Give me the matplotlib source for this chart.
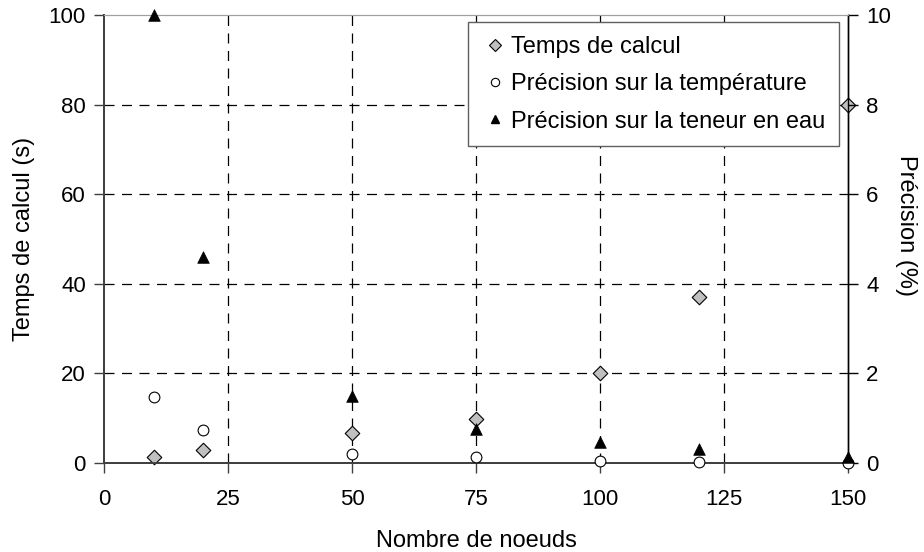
import matplotlib
matplotlib.use("Agg")
import matplotlib.pyplot as plt
from matplotlib.lines import Line2D

plt.rcParams["font.family"] = ["Liberation Sans", "DejaVu Sans"]

# --- data ---
noeuds = [10, 20, 50, 75, 100, 120, 150]
temps_calcul = [1.3, 2.8, 6.8, 9.8, 20, 37, 80]          # s, left axis
precision_temp = [1.48, 0.74, 0.2, 0.13, 0.05, 0.03, 0.01]  # %, right axis
precision_eau = [10, 4.6, 1.5, 0.77, 0.46, 0.31, 0.13]     # %, right axis

x_ticks = [0, 25, 50, 75, 100, 125, 150]
y_left_ticks = [0, 20, 40, 60, 80, 100]
y_right_ticks = [0, 2, 4, 6, 8, 10]

FS_TICK = 16
FS_LAB = 17
dark = "#404040"

fig = plt.figure(figsize=(9.24, 5.52), dpi=100)
ax1 = fig.add_axes([0.1126, 0.1612, 0.8051, 0.8116])
ax2 = ax1.twinx()

ax1.set_xlim(0, 150)
ax1.set_ylim(0, 100)
ax2.set_ylim(0, 10)

# grid
for xv in x_ticks[1:-1]:
    ax1.axvline(xv, color="black", lw=0.9, ls=(0, (8, 6)), zorder=0.5)
for yv in y_left_ticks[1:-1]:
    ax1.axhline(yv, color="black", lw=0.9, ls=(0, (8, 6)), zorder=0.5)

ax1.scatter(noeuds, temps_calcul, marker="D", s=55, c="#c0c0c0",
            edgecolors="black", linewidths=0.8, zorder=3, clip_on=False)
ax2.scatter(noeuds, precision_temp, marker="o", s=60, c="white",
            edgecolors="black", linewidths=0.8, zorder=3, clip_on=False)
ax2.scatter(noeuds, precision_eau, marker="^", s=70, c="black",
            edgecolors="black", linewidths=0.5, zorder=3, clip_on=False)

ax1.set_xticks(x_ticks)
ax1.set_yticks(y_left_ticks)
ax2.set_yticks(y_right_ticks)
ax1.tick_params(axis="x", labelsize=FS_TICK, length=7, width=1, color=dark,
                direction="out", pad=12)
ax1.tick_params(axis="y", labelsize=FS_TICK, length=7, width=1, color=dark,
                direction="out", pad=6)
ax2.tick_params(axis="y", labelsize=FS_TICK, length=7, width=1, color="black",
                direction="out", pad=6)

for ax in (ax1, ax2):
    ax.spines["left"].set_color(dark)
    ax.spines["bottom"].set_color(dark)
    ax.spines["left"].set_linewidth(1.3)
    ax.spines["bottom"].set_linewidth(1.3)
    ax.spines["top"].set_color("#a0a0a0")
    ax.spines["right"].set_color("black")
    ax.spines["right"].set_linewidth(1.0)

ax1.set_xlabel("Nombre de noeuds", fontsize=FS_LAB, labelpad=14)
ax1.set_ylabel("Temps de calcul (s)", fontsize=FS_LAB)
ax1.yaxis.set_label_coords(-0.093, 0.5)
ax2.set_ylabel("Précision (%)", fontsize=FS_LAB, rotation=270, va="center")
ax2.yaxis.set_label_coords(1.078, 0.53)

handles = [
    Line2D([], [], ls="none", marker="D", markersize=6, markerfacecolor="#c0c0c0",
           markeredgecolor="black", markeredgewidth=0.8),
    Line2D([], [], ls="none", marker="o", markersize=6, markerfacecolor="white",
           markeredgecolor="black", markeredgewidth=0.8),
    Line2D([], [], ls="none", marker="^", markersize=6, markerfacecolor="black",
           markeredgecolor="black"),
]
labels = ["Temps de calcul", "Précision sur la température",
          "Précision sur la teneur en eau"]
leg = ax2.legend(handles, labels, loc="upper right", bbox_to_anchor=(0.988, 0.984),
                 fontsize=FS_LAB, frameon=True, fancybox=False, framealpha=1,
                 edgecolor="#606060", handlelength=1.13, handletextpad=0.11,
                 labelspacing=0.65, borderpad=0.58, borderaxespad=0)
leg.get_frame().set_linewidth(1.0)

fig.savefig("out.png", dpi=100)
